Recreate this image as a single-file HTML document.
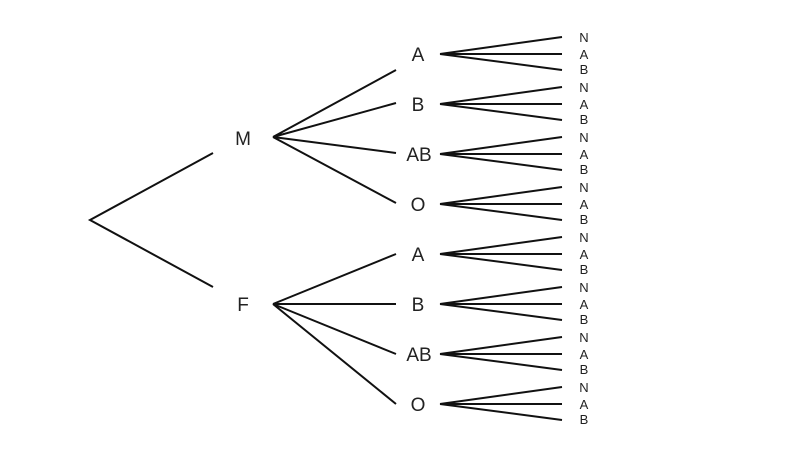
<!DOCTYPE html>
<html><head><meta charset="utf-8"><style>body{margin:0;background:#fff}svg{display:block}</style></head>
<body>
<svg width="800" height="450" xmlns="http://www.w3.org/2000/svg" font-family="Liberation Sans, sans-serif" fill="#222">
<g stroke="#111" stroke-width="2" fill="none">
<path d="M213,153 L90,220 L213,287"/>
<path d="M273,137 L396,70 M273,137 L396,103 M273,137 L396,153 M273,137 L396,203"/>
<path d="M273,304 L396,254 M273,304 L396,304 M273,304 L396,354 M273,304 L396,404"/>
<path d="M440,54 L562,37 M440,54 L562,54 M440,54 L562,70"/>
<path d="M440,104 L562,87 M440,104 L562,104 M440,104 L562,120"/>
<path d="M440,154 L562,137 M440,154 L562,154 M440,154 L562,170"/>
<path d="M440,204 L562,187 M440,204 L562,204 M440,204 L562,220"/>
<path d="M440,254 L562,237 M440,254 L562,254 M440,254 L562,270"/>
<path d="M440,304 L562,287 M440,304 L562,304 M440,304 L562,320"/>
<path d="M440,354 L562,337 M440,354 L562,354 M440,354 L562,370"/>
<path d="M440,404 L562,387 M440,404 L562,404 M440,404 L562,420"/>
</g>
<g font-size="19" text-anchor="middle">
<text x="243" y="145">M</text>
<text x="243" y="311">F</text>
<text x="418" y="61">A</text>
<text x="418" y="111">B</text>
<text x="419" y="161">AB</text>
<text x="418" y="211">O</text>
<text x="418" y="261">A</text>
<text x="418" y="311">B</text>
<text x="419" y="361">AB</text>
<text x="418" y="411">O</text>
</g>
<g font-size="13" text-anchor="middle">
<text x="584" y="42">N</text><text x="584" y="59">A</text><text x="584" y="74">B</text>
<text x="584" y="92">N</text><text x="584" y="109">A</text><text x="584" y="124">B</text>
<text x="584" y="142">N</text><text x="584" y="159">A</text><text x="584" y="174">B</text>
<text x="584" y="192">N</text><text x="584" y="209">A</text><text x="584" y="224">B</text>
<text x="584" y="242">N</text><text x="584" y="259">A</text><text x="584" y="274">B</text>
<text x="584" y="292">N</text><text x="584" y="309">A</text><text x="584" y="324">B</text>
<text x="584" y="342">N</text><text x="584" y="359">A</text><text x="584" y="374">B</text>
<text x="584" y="392">N</text><text x="584" y="409">A</text><text x="584" y="424">B</text>
</g>
</svg>
</body></html>
